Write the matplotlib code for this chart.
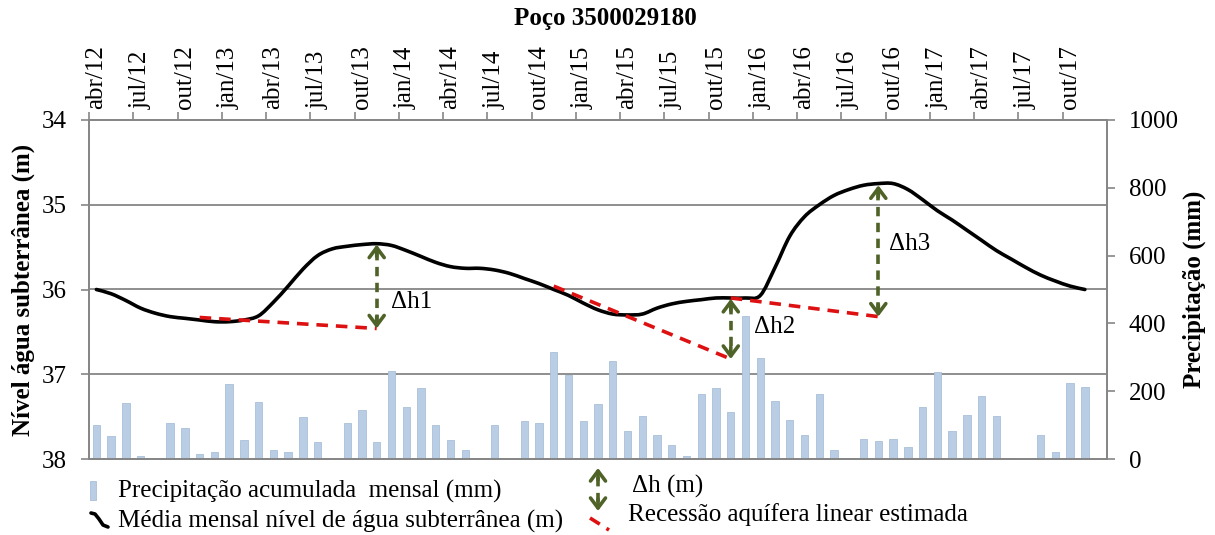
import numpy as np
import matplotlib
matplotlib.use("Agg")
import matplotlib.pyplot as plt
from matplotlib.patches import Rectangle, PathPatch
from matplotlib.path import Path

plt.rcParams['font.family'] = ['Liberation Serif', 'DejaVu Serif']

# ---------------- data ----------------
title = "Poço 3500029180"
month_labels = ["abr/12", "jul/12", "out/12", "jan/13", "abr/13", "jul/13", "out/13",
                "jan/14", "abr/14", "jul/14", "out/14", "jan/15", "abr/15", "jul/15",
                "out/15", "jan/16", "abr/16", "jul/16", "out/16", "jan/17", "abr/17",
                "jul/17", "out/17"]
n_months = 69  # abr/12 .. dez/17

precip = [101, 68, 164, 10, 4, 107, 90, 16, 22, 220, 55, 169, 28, 22, 124, 50, 0,
          107, 146, 50, 260, 152, 208, 100, 55, 28, 4, 100, 0, 112, 107, 316, 247,
          112, 163, 289, 82, 126, 70, 42, 9, 193, 210, 138, 422, 299, 172, 115, 70,
          193, 26, 3, 59, 53, 59, 36, 154, 256, 82, 131, 187, 126, 3, 0, 70, 22,
          224, 213, np.nan]

level = [36.00, 36.05, 36.13, 36.22, 36.28, 36.32, 36.34, 36.36, 36.38, 36.38,
         36.36, 36.31, 36.15, 35.96, 35.76, 35.60, 35.52, 35.49, 35.47, 35.46,
         35.48, 35.54, 35.61, 35.68, 35.73, 35.75, 35.75, 35.77, 35.81, 35.87,
         35.93, 36.00, 36.07, 36.16, 36.24, 36.29, 36.30, 36.29, 36.22, 36.17,
         36.14, 36.12, 36.10, 36.10, 36.10, 36.07, 35.74, 35.37, 35.14, 35.00,
         34.89, 34.82, 34.77, 34.75, 34.75, 34.82, 34.94, 35.07, 35.18, 35.30,
         35.42, 35.54, 35.64, 35.74, 35.83, 35.90, 35.96, 36.00]

# recession segments (month index, level)
rec_idx = [[7, 19], [31, 43], [43, 53]]
rec_lvl = [[36.33, 36.46], [35.96, 36.82], [36.10, 36.32]]

# delta-h arrows
dh_idx = [19, 43, 53]
dh_top = [35.47, 36.11, 34.77]
dh_bot = [36.46, 36.82, 36.32]
dh_text = ["Δh1", "Δh2", "Δh3"]
dh_text_idx = [20.0, 44.6, 53.7]
dh_text_lvl = [36.15, 36.44, 35.46]

leg_labels = ["Precipitação acumulada  mensal (mm)",
              "Média mensal nível de água subterrânea (m)",
              "Δh (m)",
              "Recessão aquífera linear estimada"]

# ---------------- style ----------------
W, H = 1215, 535
GRAY = "#868686"
BAR = "#b9cde5"
BAR_EDGE = "#a9bfd9"
RED = "#dd1111"
GREEN = "#4f6228"
FS = 18
ARROW = dict(arrowstyle="->,head_length=0.4,head_width=0.3", color=GREEN, lw=2.6,
             shrinkA=0, shrinkB=0, mutation_scale=18)


def smooth_path(xs, ys):
    """Excel-style smoothed line through the data points (Bezier rendering)."""
    pts = np.column_stack([xs, ys]).astype(float)
    n = len(pts)
    verts = [pts[0]]
    codes = [Path.MOVETO]
    for i in range(n - 1):
        p0 = pts[i - 1] if i > 0 else pts[i]
        p1, p2 = pts[i], pts[i + 1]
        p3 = pts[i + 2] if i + 2 < n else pts[i + 1]
        verts += [p1 + (p2 - p0) / 6.0, p2 - (p3 - p1) / 6.0, p2]
        codes += [Path.CURVE4] * 3
    return Path(verts, codes)


fig = plt.figure(figsize=(W / 100, H / 100), dpi=100)
L, R, T, B = 89, 1107, 120, 459
ax = fig.add_axes([L / W, 1 - B / H, (R - L) / W, (B - T) / H])
ax2 = ax.twinx()
ax.set_zorder(ax2.get_zorder() + 1)
ax.patch.set_visible(False)

x = np.arange(n_months)
ax2.bar(x, precip, width=0.5, color=BAR, edgecolor=BAR_EDGE, linewidth=0.6, zorder=2)
ax2.set_ylim(0, 1000)
ax2.set_yticks(np.arange(0, 1001, 200))

ax.set_xlim(-0.5, n_months - 0.5)
ax.set_ylim(38, 34)
ax.set_yticks([34, 35, 36, 37, 38])

# gridlines (behind bars)
for lv in [35, 36, 37]:
    ax2.plot([0, 1], [lv, lv], transform=ax.get_yaxis_transform(), color=GRAY,
             lw=1.3, zorder=0)

# level line (smoothed)
ax.add_patch(PathPatch(smooth_path(np.arange(len(level)), level), fill=False,
                       ec="black", lw=2.6, joinstyle="round", capstyle="round",
                       zorder=3))

# recession lines
for xi, yi in zip(rec_idx, rec_lvl):
    ax.plot(xi, yi, color=RED, lw=2.6, dashes=(3.2, 2.2), zorder=4)

# delta-h arrows
for xi, yt, yb in zip(dh_idx, dh_top, dh_bot):
    ax.plot([xi, xi], [yt + 0.07, yb - 0.07], color=GREEN, lw=2.6,
            dashes=(2.6, 1.8), zorder=5)
    ax.annotate("", xy=(xi, yt), xytext=(xi, yt + 0.14), arrowprops=ARROW, zorder=5)
    ax.annotate("", xy=(xi, yb), xytext=(xi, yb - 0.14), arrowprops=ARROW, zorder=5)

for tx, ty, s in zip(dh_text_idx, dh_text_lvl, dh_text):
    ax.text(tx, ty, s, fontsize=FS, ha="left", va="center", zorder=6)

# x axis on top
ax.xaxis.tick_top()
ax.set_xticks(np.arange(0, 3 * len(month_labels), 3))
ax.set_xticklabels(month_labels, rotation=90, fontsize=FS)
ax.set_xticks(np.arange(-0.5, 3 * len(month_labels) - 1, 3), minor=True)
ax.tick_params(axis="x", which="major", length=0, pad=8)
ax.tick_params(axis="x", which="minor", top=True, length=6, color=GRAY, width=1.2)
ax.tick_params(axis="y", which="major", length=5.8, color=GRAY, width=1.2,
               labelsize=FS, pad=10)
ax2.tick_params(axis="y", which="major", length=5.8, color=GRAY, width=1.2,
                labelsize=FS, pad=10)

for a in (ax, ax2):
    for sp in a.spines.values():
        sp.set_color(GRAY)
        sp.set_linewidth(1.3)

ax.set_ylabel("Nível água subterrânea (m)", fontsize=FS, fontweight="bold")
ax.yaxis.set_label_coords(-0.053, 0.5)
ax2.set_ylabel("Precipitação (mm)", fontsize=FS, fontweight="bold")
ax2.yaxis.set_label_coords(1.074, 0.5)

fig.text(605 / W, 1 - 18 / H, title, fontsize=FS, fontweight="bold",
         ha="center", va="center")

# ---------------- legend (pixel overlay) ----------------
lg = fig.add_axes([0, 0, 1, 1])
lg.set_xlim(0, W)
lg.set_ylim(H, 0)
lg.axis("off")
lg.add_patch(Rectangle((90, 481), 6, 19, color=BAR, ec=BAR_EDGE, lw=0.6))
lg.plot([91, 95, 99, 103, 108], [513, 514, 519, 525, 527], color="black", lw=2.6,
        solid_capstyle="round")
lg.plot([598, 598], [477, 502], color=GREEN, lw=2.6, dashes=(2.6, 1.8))
lg.annotate("", xy=(598, 468), xytext=(598, 480), arrowprops=ARROW)
lg.annotate("", xy=(598, 511), xytext=(598, 499), arrowprops=ARROW)
lg.plot([590, 609], [518, 530], color=RED, lw=2.6, dashes=(3.2, 2.2))
lg.text(118, 491, leg_labels[0], fontsize=FS, ha="left", va="center")
lg.text(118, 521, leg_labels[1], fontsize=FS, ha="left", va="center")
lg.text(632, 486, leg_labels[2], fontsize=FS, ha="left", va="center")
lg.text(628, 515, leg_labels[3], fontsize=FS, ha="left", va="center")

fig.savefig("out.png", dpi=100)
